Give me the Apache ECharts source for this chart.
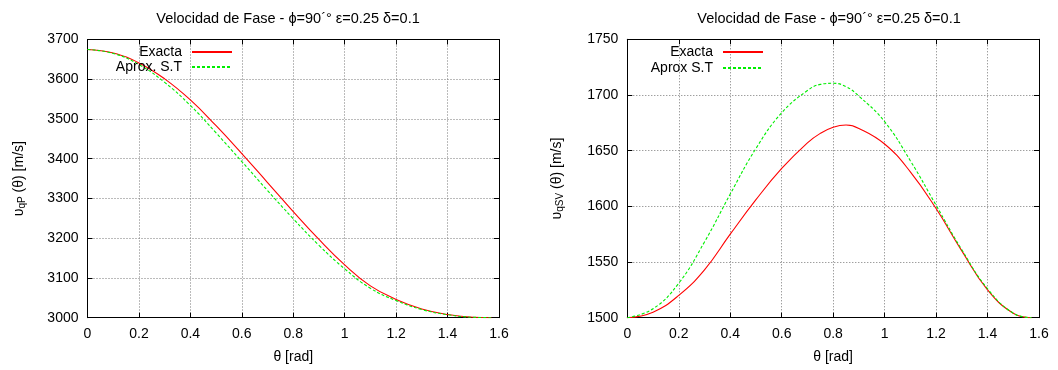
<!DOCTYPE html>
<html><head><meta charset="utf-8">
<script src="https://cdn.jsdelivr.net/npm/echarts@6/dist/echarts.min.js"></script>
<style>html,body{margin:0;padding:0;background:#fff}#c{width:1058px;height:370px}</style>
</head><body><div id="c"></div>
<script>
const thetaP = [0,0.1,0.2,0.3,0.4,0.5,0.6,0.7,0.8,0.9,1.0,1.1,1.2,1.3,1.4,1.5,1.5708];
const qpExacta = [3675,3666,3641,3601,3548,3483,3413,3340,3267,3197,3133,3080,3046,3022,3008,3001,3000];
const qpAprox  = [3675,3665,3637,3592,3534,3465,3393,3320,3249,3182,3123,3074,3043,3020.5,3007.5,3001,3000];
const thetaS = [0,0.1,0.2,0.3,0.4,0.5,0.6,0.7,0.75,0.8,0.85,0.9,1.0,1.1,1.2,1.3,1.4,1.5,1.5708];
const svExacta = [1500,1505,1520,1543,1575,1606,1634,1657,1665.5,1671,1673,1670,1656,1631,1598,1560,1525,1504,1500];
const svAprox  = [1500,1508,1531,1568,1611,1652,1684,1704,1709.5,1710.5,1707.5,1699,1676,1641,1601,1561,1526,1504,1500];
const titleText = 'Velocidad de Fase - ϕ=90´° ε=0.25 δ=0.1';

const FONT = '"Liberation Sans", Arial, sans-serif';
const pair = (xs, ys) => xs.map((t,i)=>[t, ys[i]]);
const gridStyle = {show:true, lineStyle:{color:'#777', type:[1,2], width:1}};

function xAxes(gi){
  return [
    {type:'value', gridIndex:gi, min:0, max:1.6, interval:0.2, position:'bottom',
     axisLine:{show:true, onZero:false, lineStyle:{color:'#000'}},
     axisTick:{show:true, inside:true, length:5, lineStyle:{color:'#000'}},
     axisLabel:{color:'#000', fontSize:14, fontFamily:FONT, margin:9},
     splitLine:gridStyle,
     name:'θ [rad]', nameLocation:'middle', nameGap:32,
     nameTextStyle:{color:'#000', fontSize:14, fontFamily:FONT}},
    {type:'value', gridIndex:gi, min:0, max:1.6, interval:0.2, position:'top',
     axisLine:{show:true, onZero:false, lineStyle:{color:'#000'}},
     axisTick:{show:true, inside:true, length:5, lineStyle:{color:'#000'}},
     axisLabel:{show:false}, splitLine:{show:false}}
  ];
}
function yAxes(gi, min, max, iv, sub, gap){
  return [
    {type:'value', gridIndex:gi, min:min, max:max, interval:iv, position:'left',
     axisLine:{show:true, onZero:false, lineStyle:{color:'#000'}},
     axisTick:{show:true, inside:true, length:5, lineStyle:{color:'#000'}},
     axisLabel:{color:'#000', fontSize:14, fontFamily:FONT, margin:9, formatter:(v)=>String(v)},
     splitLine:gridStyle,
     name:'{a|υ}{s|'+sub+'}{a| (θ) [m/s]}', nameLocation:'middle', nameGap:gap, nameRotate:90,
     nameTextStyle:{color:'#000', fontSize:14, fontFamily:FONT,
       rich:{a:{fontSize:14, fontFamily:FONT, color:'#000'},
             s:{fontSize:10, fontFamily:FONT, color:'#000', verticalAlign:'bottom', padding:[6,0,0,0]}}}},
    {type:'value', gridIndex:gi, min:min, max:max, interval:iv, position:'right',
     axisLine:{show:true, onZero:false, lineStyle:{color:'#000'}},
     axisTick:{show:true, inside:true, length:5, lineStyle:{color:'#000'}},
     axisLabel:{show:false}, splitLine:{show:false}}
  ];
}
function line(name, xi, yi, data, color, dashed){
  return {type:'line', name:name, xAxisIndex:xi, yAxisIndex:yi, data:data,
    showSymbol:false, symbol:'none', smooth:0.45, animation:false,
    lineStyle:{color:color, width:1.1, type: dashed ? [3,2] : 'solid'},
    itemStyle:{color:color}};
}
const legendBase = {orient:'vertical', itemWidth:40, itemHeight:10, itemGap:5, padding:0,
  textStyle:{color:'#000', fontSize:14, fontFamily:FONT, padding:[0,5,0,0]}, align:'right',
  selectedMode:false, itemStyle:{opacity:0}};

const chart = echarts.init(document.getElementById('c'));
chart.setOption({
  backgroundColor:'#fff',
  animation:false,
  title:[
    {text:titleText, left:283, top:6, textAlign:'center',
     textStyle:{fontSize:14.5, fontWeight:'normal', color:'#000', fontFamily:FONT}},
    {text:titleText, left:824, top:6, textAlign:'center',
     textStyle:{fontSize:14.5, fontWeight:'normal', color:'#000', fontFamily:FONT}}
  ],
  grid:[
    {left:87.5, top:39.5, width:411.5, height:278.2, show:false},
    {left:627.3, top:39.3, width:411.7, height:278.4, show:false}
  ],
  xAxis:[...xAxes(0), ...xAxes(1)],
  yAxis:[...yAxes(0,3000,3700,100,'qP',60), ...yAxes(1,1500,1750,50,'qSV',62)],
  legend:[
    Object.assign({}, legendBase, {data:['Exacta'], right:825, top:45}),
    Object.assign({}, legendBase, {data:['Aprox. S.T'], right:825, top:60}),
    Object.assign({}, legendBase, {data:['Exacta'], right:294, top:45}),
    Object.assign({}, legendBase, {data:['Aprox S.T'], right:294, top:61})
  ],
  series:[
    line('Exacta', 0, 0, pair(thetaP, qpExacta), '#ff0000', false),
    line('Aprox. S.T', 0, 0, pair(thetaP, qpAprox), '#00ee00', true),
    line('Exacta', 2, 2, pair(thetaS, svExacta), '#ff0000', false),
    line('Aprox S.T', 2, 2, pair(thetaS, svAprox), '#00ee00', true)
  ]
});
</script></body></html>
